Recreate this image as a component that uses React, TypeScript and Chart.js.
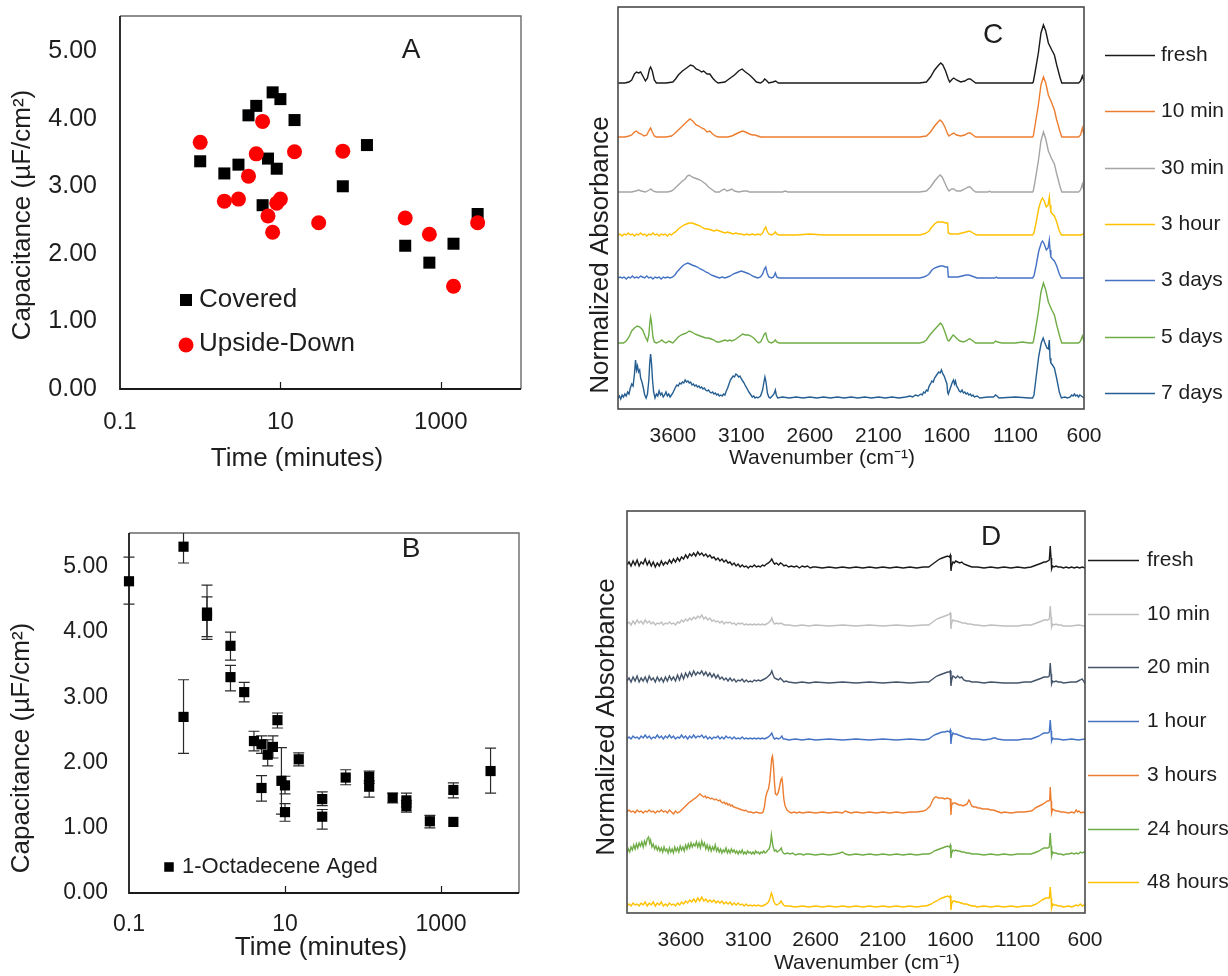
import React, { useEffect, useRef } from 'react';
import { Chart, registerables } from 'chart.js';
Chart.register(...registerables);

const FONT = '"Liberation Sans", Arial, Helvetica, sans-serif';
const INK = '#1e1e1e';

// ---------------- Panel A ----------------
const aCoveredTime = [1, 2, 3, 4, 5, 6, 7, 8, 9, 10, 15, 60, 120, 360, 720, 1440, 2880];
const aCoveredCap = [3.37, 3.19, 3.32, 4.05, 4.19, 2.72, 3.41, 4.39, 3.26, 4.29, 3.98, 3.0, 3.61, 2.12, 1.87, 2.15, 2.59];
const aUpsideTime = [1, 2, 3, 4, 5, 6, 7, 8, 9, 10, 15, 30, 60, 360, 720, 1440, 2880];
const aUpsideCap = [3.65, 2.78, 2.81, 3.15, 3.48, 3.96, 2.56, 2.32, 2.75, 2.81, 3.51, 2.46, 3.52, 2.53, 2.29, 1.52, 2.46];

// ---------------- Panel B ----------------
const bTime = [0.1, 0.5, 0.5, 1, 1, 2, 2, 3, 4, 5, 5, 6, 7, 8, 9, 10, 10, 15, 30, 30, 60, 120, 120, 240, 360, 360, 720, 1440, 1440, 4320];
const bCap = [4.78, 5.31, 2.7, 4.3, 4.25, 3.79, 3.31, 3.08, 2.33, 2.28, 1.61, 2.12, 2.24, 2.65, 1.72, 1.65, 1.24, 2.05, 1.44, 1.17, 1.77, 1.78, 1.63, 1.46, 1.42, 1.33, 1.1, 1.58, 1.09, 1.87];
const bLow = [4.43, 5.06, 2.14, 3.93, 3.89, 3.57, 3.1, 2.93, 2.18, 2.14, 1.41, 1.95, 2.07, 2.53, 1.21, 1.52, 1.1, 1.95, 1.34, 0.98, 1.66, 1.68, 1.47, 1.38, 1.32, 1.24, 1.0, 1.46, null, 1.53];
const bHigh = [5.15, 5.56, 3.27, 4.72, 4.54, 4.0, 3.49, 3.23, 2.48, 2.41, 1.8, 2.35, 2.41, 2.76, 2.23, 1.79, 1.37, 2.15, 1.55, 1.28, 1.89, 1.87, 1.72, 1.53, 1.53, 1.42, 1.19, 1.69, null, 2.22];

// shared capacitance / time ticks
const capTicks = [0, 1, 2, 3, 4, 5];
const timeTicks = [0.1, 10, 1000];
const timeInnerMarks = [10, 1000];

// ---------------- Panel C (FTIR, stacked) ----------------
const waveTicks = [3600, 3100, 2600, 2100, 1600, 1100, 600];
const cLabels = ['fresh', '10 min', '30 min', '3 hour', '3 days', '5 days', '7 days'];
const cColors = ['#1a1a1a', '#ED7D31', '#A5A5A5', '#FFC000', '#4472C4', '#70AD47', '#255E91'];
const cOffsets = [326, 272, 217, 174, 131, 66, 11];

const cFresh = [[4000,0],[3950,0],[3920,1],[3900,3],[3880,9],[3865,11],[3850,10],[3835,11],[3815,6],[3800,2],[3785,5],[3770,14],[3762,16],[3750,12],[3735,3],[3720,0],[3650,0],[3600,1],[3580,4],[3560,8],[3530,12],[3500,15],[3470,18],[3450,17],[3430,14],[3410,13],[3390,11],[3375,12],[3350,9],[3330,9],[3310,5],[3290,2],[3270,0],[3220,1],[3200,3],[3180,5],[3150,8],[3120,12],[3095,14],[3070,11],[3040,8],[3010,4],[2990,1],[2960,0],[2940,2],[2930,4],[2920,3],[2900,0],[2870,1],[2850,2],[2830,0],[1800,0],[1750,1],[1720,6],[1690,13],[1660,18],[1645,20],[1630,18],[1610,12],[1590,4],[1580,1],[1560,4],[1550,5],[1530,3],[1500,1],[1470,2],[1445,4],[1430,4],[1410,2],[1390,0],[1000,0],[975,0],[970,1],[958,10],[933,30],[914,50],[896,58],[879,52],[860,40],[835,33],[816,28],[799,18],[774,5],[762,0],[640,0],[625,2],[612,7],[605,4],[600,2]];
const c10min = [[4000,0],[3950,0],[3920,1],[3900,2],[3880,5],[3865,6],[3850,4],[3830,3],[3810,1],[3790,2],[3772,7],[3762,9],[3750,5],[3735,1],[3720,0],[3650,0],[3610,1],[3590,3],[3560,7],[3530,11],[3500,15],[3475,18],[3455,16],[3430,12],[3410,11],[3390,9],[3370,8],[3350,5],[3330,6],[3310,3],[3290,1],[3270,0],[3200,0],[3170,1],[3140,3],[3110,5],[3090,6],[3070,5],[3040,3],[3020,2],[3000,2],[2980,1],[2960,0],[1800,0],[1750,1],[1720,5],[1690,11],[1665,15],[1650,17],[1635,15],[1615,10],[1595,3],[1585,1],[1565,3],[1550,4],[1530,2],[1500,1],[1470,2],[1445,4],[1430,4],[1410,2],[1390,0],[1000,0],[975,0],[970,1],[958,11],[933,32],[914,52],[896,60],[879,54],[860,42],[835,34],[816,27],[799,17],[774,5],[762,0],[640,0],[625,2],[612,9],[605,5],[600,3]];
const c30min = [[4000,0],[3900,0],[3870,1],[3850,2],[3830,1],[3800,0],[3772,2],[3760,3],[3745,1],[3720,0],[3640,0],[3610,1],[3590,3],[3560,7],[3530,11],[3510,13],[3495,16],[3480,17],[3460,15],[3440,14],[3420,13],[3400,12],[3380,10],[3360,8],[3340,5],[3310,2],[3290,0],[3260,0],[3240,2],[3225,3],[3205,1],[3185,2],[3170,3],[3150,1],[3120,0],[3080,1],[3060,1],[3040,0],[2800,0],[2780,1],[2760,0],[1800,0],[1750,1],[1720,5],[1690,11],[1665,15],[1650,17],[1635,15],[1615,9],[1595,3],[1585,1],[1565,3],[1550,3],[1530,1],[1500,1],[1470,3],[1445,5],[1430,5],[1410,2],[1390,0],[1300,0],[1290,1],[1280,0],[1000,0],[975,0],[970,1],[958,10],[933,31],[914,51],[896,60],[879,53],[860,41],[835,33],[816,28],[799,18],[774,5],[762,0],[640,0],[625,2],[612,8],[605,4],[600,2]];
const c3hour = [[4000,0],[3985,1],[3970,-1],[3955,1],[3940,0],[3925,2],[3910,0],[3895,1],[3880,-1],[3865,1],[3850,0],[3835,2],[3820,0],[3805,1],[3790,-1],[3775,1],[3760,0],[3745,2],[3730,0],[3715,1],[3700,-1],[3685,1],[3670,0],[3655,1],[3640,-1],[3625,1],[3610,0],[3595,2],[3580,3],[3560,6],[3540,8],[3520,10],[3500,11],[3480,12],[3460,12],[3440,11],[3420,10],[3400,9],[3380,7],[3360,6],[3340,6],[3320,5],[3300,4],[3280,5],[3260,4],[3240,3],[3220,2],[3200,3],[3180,2],[3160,1],[3140,2],[3120,1],[3100,1],[3080,0],[3060,1],[3040,0],[3020,1],[3000,0],[2980,1],[2960,0],[2945,2],[2932,6],[2922,8],[2912,4],[2900,1],[2880,0],[2865,1],[2852,3],[2842,1],[2825,0],[2700,0],[2600,1],[2500,0],[1800,0],[1770,1],[1750,2],[1730,4],[1710,8],[1690,11],[1670,13],[1650,13],[1630,13],[1610,12],[1595,12],[1590,2],[1575,1],[1550,1],[1520,1],[1490,2],[1460,3],[1440,4],[1420,3],[1400,1],[1380,0],[1000,0],[975,0],[965,2],[950,12],[930,27],[912,35],[903,37],[890,34],[875,28],[862,30],[853,38],[848,30],[842,23],[830,21],[816,19],[799,13],[780,4],[765,0],[620,0],[610,1],[600,0]];
const c3days = [[4000,0],[3985,1],[3970,0],[3955,1],[3940,-1],[3925,1],[3910,0],[3895,2],[3880,0],[3865,1],[3850,0],[3835,2],[3820,1],[3805,0],[3790,2],[3775,0],[3760,1],[3745,-1],[3730,1],[3715,0],[3700,1],[3685,-1],[3670,1],[3655,0],[3640,1],[3620,0],[3600,1],[3585,3],[3570,6],[3550,9],[3530,12],[3510,14],[3490,15],[3475,14],[3460,13],[3440,12],[3420,11],[3400,9],[3380,8],[3360,6],[3340,5],[3320,3],[3300,2],[3280,1],[3260,0],[3240,1],[3220,0],[3200,1],[3180,2],[3160,4],[3140,5],[3120,6],[3100,7],[3080,6],[3060,5],[3040,4],[3020,2],[3000,1],[2980,0],[2960,1],[2945,4],[2932,9],[2922,11],[2912,5],[2900,1],[2880,0],[2865,1],[2852,5],[2842,1],[2825,0],[1800,0],[1770,1],[1750,2],[1730,4],[1710,8],[1690,10],[1670,11],[1650,12],[1630,12],[1610,11],[1595,11],[1590,1],[1575,1],[1550,1],[1520,1],[1490,2],[1460,3],[1440,3],[1420,2],[1400,1],[1380,0],[1250,0],[1240,1],[1230,0],[1000,0],[975,0],[965,2],[950,12],[930,27],[912,35],[903,37],[890,34],[875,28],[862,30],[853,38],[848,28],[842,21],[830,19],[816,17],[799,12],[780,4],[765,0],[600,0]];
const c5days = [[4000,0],[3960,0],[3940,2],[3920,6],[3900,12],[3880,15],[3860,17],[3840,16],[3820,13],[3800,6],[3785,2],[3775,8],[3768,20],[3762,26],[3755,20],[3745,6],[3735,1],[3720,0],[3700,1],[3680,3],[3665,1],[3650,0],[3630,2],[3615,1],[3600,0],[3580,3],[3560,6],[3540,8],[3520,9],[3500,10],[3480,12],[3460,11],[3440,9],[3420,8],[3400,7],[3380,6],[3360,5],[3340,5],[3320,4],[3300,3],[3280,1],[3260,1],[3240,2],[3220,3],[3200,2],[3185,3],[3170,2],[3150,3],[3130,5],[3110,7],[3090,9],[3070,8],[3050,8],[3030,7],[3010,5],[2990,2],[2975,0],[2960,1],[2945,5],[2932,9],[2922,10],[2912,4],[2900,1],[2880,0],[2865,1],[2852,3],[2842,1],[2825,0],[1800,0],[1770,1],[1750,3],[1725,8],[1700,12],[1680,15],[1660,18],[1648,20],[1635,18],[1620,13],[1605,7],[1595,3],[1585,2],[1570,5],[1555,8],[1545,7],[1525,4],[1505,2],[1480,1],[1460,2],[1440,4],[1430,4],[1410,2],[1390,0],[1260,0],[1245,2],[1230,1],[1200,0],[1100,0],[1050,1],[1000,0],[975,0],[970,1],[958,10],[933,31],[914,51],[896,60],[879,53],[860,41],[835,33],[816,28],[799,18],[774,5],[762,0],[640,0],[625,2],[612,7],[605,4],[600,2]];
const c7days = [[4000,0],[3990,2],[3980,-1],[3970,3],[3960,1],[3950,4],[3940,2],[3930,6],[3920,4],[3910,10],[3900,14],[3890,12],[3880,24],[3872,38],[3865,28],[3858,32],[3850,26],[3842,28],[3835,20],[3825,16],[3815,10],[3805,3],[3795,0],[3785,4],[3775,18],[3768,36],[3762,44],[3755,34],[3748,18],[3740,6],[3730,0],[3720,4],[3710,2],[3700,7],[3690,3],[3680,5],[3670,1],[3660,3],[3650,6],[3640,2],[3630,4],[3620,1],[3610,3],[3600,5],[3590,8],[3580,11],[3570,13],[3560,12],[3550,15],[3540,14],[3530,16],[3520,15],[3510,18],[3500,16],[3490,17],[3480,15],[3470,16],[3460,13],[3450,14],[3440,12],[3430,13],[3420,11],[3410,12],[3400,10],[3390,11],[3380,9],[3370,10],[3360,8],[3350,7],[3340,8],[3330,6],[3320,5],[3310,6],[3300,4],[3290,5],[3280,3],[3270,4],[3260,2],[3250,3],[3240,2],[3230,4],[3220,3],[3210,7],[3200,10],[3190,14],[3180,18],[3170,20],[3160,22],[3150,21],[3140,24],[3130,23],[3120,21],[3110,22],[3100,19],[3090,17],[3080,15],[3070,12],[3060,10],[3050,7],[3040,5],[3030,3],[3020,1],[3010,2],[3000,0],[2990,1],[2980,0],[2960,2],[2945,8],[2935,16],[2928,21],[2920,16],[2910,5],[2900,1],[2890,0],[2875,2],[2862,4],[2852,8],[2845,3],[2835,0],[2800,1],[2750,0],[2700,1],[2650,0],[2600,1],[2550,0],[2500,1],[2450,0],[2400,1],[2350,0],[2300,1],[2250,0],[2200,1],[2150,0],[2100,1],[2050,0],[2000,1],[1950,0],[1900,1],[1870,2],[1850,1],[1830,3],[1810,2],[1790,4],[1780,3],[1770,6],[1760,5],[1750,8],[1740,7],[1730,12],[1720,14],[1710,17],[1700,16],[1690,20],[1680,22],[1670,24],[1660,26],[1650,25],[1640,28],[1630,24],[1620,22],[1610,18],[1600,14],[1595,6],[1590,4],[1580,8],[1570,12],[1560,16],[1552,18],[1545,14],[1538,17],[1530,12],[1520,10],[1510,7],[1500,6],[1490,8],[1480,5],[1470,6],[1460,4],[1450,5],[1440,3],[1430,4],[1420,2],[1410,3],[1400,1],[1380,2],[1360,0],[1300,1],[1260,1],[1245,3],[1235,2],[1220,0],[1100,1],[1000,0],[975,0],[965,3],[950,20],[930,42],[912,55],[898,60],[885,55],[870,50],[860,49],[853,58],[848,40],[842,35],[830,33],[816,30],[800,20],[780,6],[765,0],[740,1],[720,0],[700,1],[690,3],[680,2],[670,4],[660,2],[650,3],[640,1],[630,3],[620,2],[610,1],[600,0]];
const cSpectra = [cFresh, c10min, c30min, c3hour, c3days, c5days, c7days];

// ---------------- Panel D (FTIR, stacked) ----------------
const dLabels = ['fresh', '10 min', '20 min', '1 hour', '3 hours', '24 hours', '48 hours'];
const dColors = ['#1a1a1a', '#BFBFBF', '#44546A', '#4472C4', '#ED7D31', '#70AD47', '#FFC000'];
const dOffsets = [345, 287, 230, 173, 100, 58, 6];

const dFresh = [[4000,3],[3985,6],[3970,2],[3955,7],[3940,3],[3925,8],[3910,2],[3895,6],[3880,4],[3865,9],[3850,3],[3835,7],[3820,2],[3805,6],[3790,1],[3775,5],[3760,2],[3745,7],[3730,3],[3715,6],[3700,4],[3685,8],[3670,5],[3655,9],[3640,6],[3625,10],[3610,7],[3595,11],[3580,9],[3565,13],[3550,10],[3535,14],[3520,12],[3505,15],[3490,12],[3475,16],[3460,13],[3445,15],[3430,12],[3415,14],[3400,11],[3385,13],[3370,10],[3355,11],[3340,8],[3325,10],[3310,7],[3295,9],[3280,6],[3265,8],[3250,5],[3235,6],[3220,3],[3205,5],[3190,2],[3175,4],[3160,1],[3145,3],[3130,1],[3115,2],[3100,0],[3085,2],[3070,1],[3055,3],[3040,1],[3025,2],[3010,1],[2995,3],[2980,2],[2965,4],[2950,5],[2935,7],[2925,9],[2915,6],[2905,4],[2890,5],[2875,3],[2860,5],[2848,4],[2835,2],[2820,3],[2800,1],[2780,2],[2760,1],[2740,2],[2720,0],[2700,2],[2680,1],[2660,2],[2640,0],[2620,1],[2600,1],[2550,0],[2500,1],[2450,0],[2400,1],[2350,0],[2300,1],[2250,0],[2200,1],[2150,0],[2100,1],[2050,0],[2000,1],[1950,0],[1900,1],[1850,0],[1800,1],[1760,1],[1740,3],[1720,5],[1700,7],[1680,9],[1660,10],[1640,11],[1620,12],[1607,11],[1600,13],[1595,-3],[1590,2],[1580,6],[1570,5],[1560,7],[1545,6],[1530,5],[1515,6],[1500,4],[1480,3],[1460,2],[1440,1],[1400,1],[1350,0],[1300,1],[1250,0],[1200,1],[1150,0],[1100,1],[1050,0],[1000,1],[980,2],[960,3],[940,4],[920,5],[905,6],[890,6],[875,7],[865,8],[858,22],[852,10],[848,-1],[840,2],[830,1],[815,2],[800,1],[780,1],[760,0],[740,1],[720,0],[700,1],[680,0],[660,1],[640,0],[620,1],[600,0]];
const d10min = [[4000,2],[3985,4],[3970,1],[3955,5],[3940,2],[3925,6],[3910,3],[3895,5],[3880,2],[3865,6],[3850,3],[3835,5],[3820,2],[3805,4],[3790,1],[3775,3],[3760,2],[3745,4],[3730,1],[3715,3],[3700,2],[3685,4],[3670,2],[3655,3],[3640,1],[3625,4],[3610,3],[3595,6],[3580,4],[3565,7],[3550,5],[3535,8],[3520,6],[3505,9],[3490,7],[3475,10],[3460,8],[3445,11],[3430,7],[3415,9],[3400,6],[3385,8],[3370,5],[3355,6],[3340,4],[3325,5],[3310,3],[3295,5],[3280,2],[3265,4],[3250,3],[3235,4],[3220,2],[3205,3],[3190,1],[3175,3],[3160,2],[3145,3],[3130,1],[3115,2],[3100,1],[3085,2],[3070,1],[3055,2],[3040,1],[3025,2],[3010,1],[2995,2],[2980,1],[2965,2],[2950,3],[2935,5],[2925,8],[2915,4],[2905,2],[2890,3],[2875,2],[2860,3],[2845,2],[2830,1],[2800,1],[2750,0],[2700,1],[2650,0],[2600,1],[2500,0],[2400,1],[2300,0],[2200,1],[2100,0],[2000,1],[1900,0],[1800,1],[1760,1],[1740,3],[1720,5],[1700,7],[1680,8],[1660,9],[1640,10],[1620,11],[1607,12],[1600,13],[1595,-3],[1590,3],[1580,6],[1565,5],[1550,5],[1530,4],[1510,3],[1490,3],[1470,2],[1450,2],[1420,1],[1400,1],[1350,0],[1300,1],[1200,0],[1100,0],[1050,1],[1000,1],[980,2],[960,3],[940,4],[920,5],[905,6],[890,6],[875,6],[865,7],[858,20],[852,9],[848,-1],[840,2],[830,1],[815,2],[800,1],[780,1],[760,0],[700,0],[650,1],[600,0]];
const d20min = [[4000,2],[3985,5],[3970,1],[3955,6],[3940,2],[3925,7],[3910,1],[3895,5],[3880,2],[3865,6],[3850,1],[3835,7],[3820,3],[3805,5],[3790,1],[3775,6],[3760,2],[3745,5],[3730,1],[3715,6],[3700,2],[3685,7],[3670,3],[3655,6],[3640,2],[3625,8],[3610,3],[3595,9],[3580,4],[3565,10],[3550,6],[3535,11],[3520,7],[3505,12],[3490,8],[3475,11],[3460,9],[3445,12],[3430,8],[3415,11],[3400,7],[3385,10],[3370,6],[3355,9],[3340,5],[3325,8],[3310,4],[3295,6],[3280,3],[3265,5],[3250,2],[3235,5],[3220,2],[3205,4],[3190,1],[3175,3],[3160,2],[3145,4],[3130,1],[3115,3],[3100,1],[3085,2],[3070,1],[3055,3],[3040,2],[3025,3],[3010,2],[2995,3],[2980,4],[2965,5],[2950,7],[2935,9],[2925,12],[2915,8],[2905,5],[2890,4],[2875,3],[2862,5],[2848,3],[2835,1],[2820,2],[2800,1],[2750,0],[2700,1],[2650,0],[2600,1],[2500,0],[2400,1],[2300,0],[2200,1],[2100,0],[2000,1],[1900,0],[1800,1],[1760,1],[1740,3],[1720,5],[1700,7],[1680,8],[1660,9],[1640,10],[1620,11],[1607,11],[1600,12],[1595,-3],[1590,3],[1580,7],[1570,6],[1560,5],[1545,7],[1530,5],[1515,6],[1500,3],[1480,2],[1460,2],[1440,1],[1400,1],[1350,0],[1300,1],[1200,0],[1100,0],[1050,1],[1000,1],[980,2],[960,3],[940,4],[920,5],[905,6],[890,6],[875,6],[865,7],[858,20],[852,9],[848,-1],[840,2],[830,1],[815,2],[800,1],[780,1],[760,0],[700,1],[665,1],[650,2],[635,3],[622,4],[610,2],[600,-1]];
const d1hour = [[4000,1],[3985,3],[3970,1],[3955,4],[3940,2],[3925,3],[3910,1],[3895,4],[3880,2],[3865,5],[3850,2],[3835,4],[3820,1],[3805,3],[3790,2],[3775,5],[3760,2],[3745,4],[3730,1],[3715,4],[3700,2],[3685,5],[3670,2],[3655,4],[3640,1],[3625,3],[3610,2],[3595,5],[3580,2],[3565,4],[3550,1],[3535,4],[3520,2],[3505,5],[3490,2],[3475,4],[3460,3],[3445,5],[3430,2],[3415,4],[3400,1],[3385,3],[3370,1],[3355,3],[3340,2],[3325,4],[3310,1],[3295,3],[3280,1],[3265,4],[3250,2],[3235,3],[3220,1],[3205,3],[3190,1],[3175,2],[3160,1],[3145,3],[3130,1],[3115,2],[3100,1],[3085,2],[3070,1],[3055,2],[3040,1],[3025,2],[3010,1],[2995,2],[2980,1],[2965,2],[2950,3],[2935,5],[2925,7],[2915,3],[2905,1],[2890,2],[2875,1],[2862,2],[2850,4],[2840,1],[2825,1],[2800,0],[2750,1],[2700,0],[2650,1],[2600,0],[2500,1],[2400,0],[2300,1],[2200,0],[2100,1],[2000,0],[1900,1],[1800,0],[1760,1],[1740,3],[1720,5],[1700,6],[1680,7],[1660,8],[1640,8],[1620,9],[1607,8],[1600,10],[1595,-4],[1590,3],[1580,7],[1570,6],[1555,6],[1540,5],[1520,4],[1500,3],[1480,2],[1460,2],[1440,1],[1400,1],[1350,0],[1300,1],[1280,2],[1265,2],[1250,1],[1200,0],[1100,0],[1050,1],[1000,1],[980,2],[960,3],[940,4],[920,6],[905,7],[890,7],[875,7],[865,8],[858,20],[852,9],[848,-1],[840,2],[830,1],[815,1],[800,1],[760,0],[700,1],[650,0],[600,1]];
const d3hours = [[4000,1],[3985,3],[3970,1],[3955,2],[3940,0],[3925,3],[3910,1],[3895,2],[3880,0],[3865,2],[3850,1],[3835,3],[3820,1],[3805,2],[3790,0],[3775,2],[3760,1],[3745,3],[3730,1],[3715,2],[3700,0],[3685,3],[3670,1],[3655,-1],[3640,2],[3625,0],[3610,1],[3595,3],[3580,5],[3565,7],[3550,9],[3535,11],[3520,12],[3505,14],[3490,15],[3475,17],[3460,19],[3450,18],[3440,17],[3430,16],[3420,17],[3410,15],[3400,16],[3390,15],[3380,14],[3370,15],[3360,14],[3350,13],[3340,14],[3330,13],[3320,12],[3310,13],[3300,11],[3290,10],[3280,11],[3270,9],[3260,10],[3250,8],[3240,9],[3230,7],[3220,8],[3210,6],[3200,6],[3190,5],[3180,5],[3170,4],[3160,4],[3150,3],[3140,3],[3130,2],[3120,3],[3100,1],[3080,1],[3060,0],[3040,1],[3020,0],[3000,0],[2990,1],[2980,6],[2970,16],[2960,21],[2950,24],[2940,32],[2932,45],[2925,55],[2920,57],[2913,48],[2906,32],[2898,19],[2888,18],[2878,20],[2868,26],[2858,33],[2850,35],[2844,28],[2836,14],[2826,7],[2812,3],[2795,1],[2780,0],[2760,1],[2740,0],[2720,1],[2700,0],[2650,1],[2600,0],[2550,1],[2500,0],[2450,1],[2400,0],[2380,2],[2360,1],[2340,0],[2300,1],[2250,0],[2200,1],[2150,0],[2100,1],[2050,0],[2000,1],[1950,0],[1900,1],[1850,1],[1800,2],[1780,3],[1765,5],[1750,7],[1740,10],[1730,13],[1720,15],[1710,16],[1700,16],[1690,15],[1680,15],[1660,15],[1640,14],[1620,15],[1607,14],[1600,14],[1595,-2],[1590,8],[1580,10],[1565,10],[1550,9],[1535,8],[1520,8],[1505,7],[1490,8],[1475,9],[1462,13],[1455,12],[1448,9],[1440,7],[1425,6],[1410,6],[1395,5],[1380,5],[1360,4],[1340,4],[1320,4],[1300,3],[1280,3],[1260,2],[1240,1],[1220,0],[1200,1],[1150,0],[1100,1],[1050,1],[1000,2],[985,3],[970,5],[955,6],[940,7],[925,8],[910,9],[900,10],[890,11],[880,12],[870,12],[862,13],[858,26],[852,12],[848,0],[840,4],[830,3],[815,2],[800,2],[780,1],[760,1],[720,0],[700,1],[680,0],[665,3],[655,1],[645,2],[630,0],[615,1],[600,0]];
const d24hours = [[4000,2],[3990,6],[3980,3],[3970,8],[3960,5],[3950,10],[3940,6],[3930,11],[3920,7],[3910,12],[3900,9],[3890,13],[3880,8],[3870,14],[3860,10],[3850,16],[3840,18],[3832,12],[3825,15],[3815,8],[3805,11],[3795,6],[3785,9],[3775,5],[3765,8],[3755,4],[3745,7],[3735,3],[3725,8],[3715,4],[3705,6],[3695,2],[3685,7],[3675,3],[3665,6],[3655,2],[3645,8],[3635,4],[3625,7],[3615,3],[3605,9],[3595,5],[3585,8],[3575,4],[3565,10],[3555,6],[3545,11],[3535,7],[3525,12],[3515,8],[3505,11],[3495,9],[3485,13],[3475,8],[3465,12],[3455,7],[3445,14],[3435,9],[3425,12],[3415,6],[3405,10],[3395,5],[3385,9],[3375,4],[3365,8],[3355,5],[3345,10],[3335,4],[3325,7],[3315,3],[3305,6],[3295,2],[3285,5],[3275,3],[3265,7],[3255,2],[3245,5],[3235,2],[3225,6],[3215,3],[3205,5],[3195,2],[3185,4],[3175,1],[3165,4],[3155,2],[3145,5],[3135,1],[3125,3],[3115,1],[3105,4],[3095,2],[3085,3],[3075,1],[3065,3],[3055,1],[3045,4],[3035,2],[3025,3],[3015,1],[3005,3],[2995,2],[2985,4],[2975,2],[2965,3],[2955,5],[2945,6],[2935,11],[2928,20],[2922,14],[2915,8],[2905,4],[2895,5],[2885,3],[2875,4],[2865,5],[2855,7],[2848,4],[2840,2],[2830,1],[2810,2],[2790,1],[2770,2],[2750,0],[2730,1],[2710,1],[2690,0],[2670,1],[2650,1],[2600,0],[2550,1],[2500,0],[2450,1],[2420,2],[2400,3],[2380,1],[2350,0],[2300,1],[2250,0],[2200,1],[2150,0],[2100,1],[2050,0],[2000,1],[1950,0],[1900,1],[1850,0],[1800,1],[1760,1],[1740,2],[1720,4],[1700,5],[1680,6],[1660,7],[1640,8],[1620,9],[1607,8],[1600,10],[1595,-3],[1590,2],[1580,5],[1570,4],[1560,5],[1545,4],[1530,4],[1515,3],[1500,3],[1480,2],[1460,2],[1440,1],[1400,1],[1350,0],[1300,1],[1250,0],[1200,1],[1150,0],[1100,1],[1050,1],[1000,1],[980,2],[960,3],[940,4],[920,6],[905,7],[890,7],[875,7],[865,8],[858,22],[852,9],[848,-1],[840,3],[830,2],[815,2],[800,1],[780,1],[760,0],[740,1],[720,1],[700,2],[680,1],[665,2],[650,1],[635,3],[620,2],[610,3],[600,2]];
const d48hours = [[4000,1],[3985,3],[3970,1],[3955,4],[3940,2],[3925,3],[3910,1],[3895,4],[3880,2],[3865,5],[3850,1],[3835,4],[3820,2],[3805,5],[3790,1],[3775,4],[3760,2],[3745,5],[3730,1],[3715,3],[3700,1],[3685,4],[3670,2],[3655,3],[3640,1],[3625,4],[3610,2],[3595,5],[3580,3],[3565,6],[3550,4],[3535,7],[3520,5],[3505,8],[3490,5],[3475,9],[3460,6],[3445,10],[3430,6],[3415,8],[3400,5],[3385,7],[3370,5],[3355,7],[3340,4],[3325,6],[3310,4],[3295,6],[3280,3],[3265,5],[3250,3],[3235,5],[3220,2],[3205,4],[3190,2],[3175,4],[3160,2],[3145,3],[3130,1],[3115,3],[3100,1],[3085,2],[3070,1],[3055,2],[3040,1],[3025,2],[3010,1],[2995,1],[2980,2],[2965,3],[2950,5],[2938,9],[2928,14],[2920,11],[2912,6],[2900,3],[2888,2],[2876,3],[2866,4],[2856,6],[2848,4],[2838,2],[2825,1],[2800,1],[2750,0],[2700,1],[2650,0],[2600,1],[2550,0],[2500,1],[2450,0],[2400,1],[2350,0],[2300,1],[2250,0],[2200,1],[2150,0],[2100,1],[2050,0],[2000,1],[1950,0],[1900,1],[1850,0],[1800,1],[1780,1],[1760,2],[1740,3],[1720,5],[1700,6],[1680,8],[1660,9],[1640,10],[1620,11],[1607,10],[1600,11],[1595,-3],[1590,3],[1580,6],[1570,6],[1555,5],[1540,5],[1520,4],[1500,3],[1480,3],[1460,2],[1440,1],[1420,1],[1400,0],[1350,1],[1300,0],[1250,1],[1200,0],[1150,1],[1100,0],[1050,1],[1000,1],[980,2],[960,3],[940,5],[920,7],[905,8],[890,9],[875,9],[865,9],[858,20],[852,9],[848,-1],[840,3],[830,2],[815,2],[800,1],[780,1],[760,0],[720,1],[700,0],[680,1],[665,2],[650,1],[635,3],[620,1],[610,2],[600,1]];
const dSpectra = [dFresh, d10min, d20min, d1hour, d3hours, d24hours, d48hours];

// ---------------- helpers ----------------
type Txt = { t: string; x: number; y: number; size: number; rot?: boolean; align?: CanvasTextAlign };

function textPlugin(items: Txt[], ox: number, oy: number) {
  return {
    id: 'panelText',
    afterDraw(chart: any) {
      const ctx = chart.ctx;
      ctx.save();
      ctx.fillStyle = INK;
      ctx.textBaseline = 'middle';
      for (const it of items) {
        ctx.font = `${it.size}px ${FONT}`;
        ctx.textAlign = it.align || 'center';
        ctx.save();
        ctx.translate(it.x - ox, it.y - oy);
        if (it.rot) ctx.rotate(-Math.PI / 2);
        ctx.fillText(it.t, 0, 0);
        ctx.restore();
      }
      ctx.restore();
    },
  };
}

function scatterFrame() {
  return {
    id: 'scatterFrame',
    beforeDatasetsDraw(chart: any) {
      const { ctx, chartArea: a } = chart;
      const xs = chart.scales.x;
      ctx.save();
      ctx.lineWidth = 1.4;
      ctx.strokeStyle = '#6a6a6a';
      ctx.beginPath();
      ctx.moveTo(a.left, a.top);
      ctx.lineTo(a.right, a.top);
      ctx.lineTo(a.right, a.bottom);
      ctx.stroke();
      ctx.lineWidth = 1.8;
      ctx.strokeStyle = '#1a1a1a';
      ctx.beginPath();
      ctx.moveTo(a.left, a.top);
      ctx.lineTo(a.left, a.bottom);
      ctx.lineTo(a.right, a.bottom);
      ctx.stroke();
      ctx.lineWidth = 1.2;
      for (const v of timeInnerMarks) {
        const px = Math.round(xs.getPixelForValue(v)) + 0.5;
        ctx.beginPath();
        ctx.moveTo(px, a.bottom);
        ctx.lineTo(px, a.bottom - 7);
        ctx.stroke();
      }
      ctx.restore();
    },
  };
}

function errorBars() {
  return {
    id: 'errorBars',
    beforeDatasetsDraw(chart: any) {
      const { ctx, chartArea: a } = chart;
      const xs = chart.scales.x;
      const ys = chart.scales.y;
      ctx.save();
      ctx.beginPath();
      ctx.rect(0, a.top, chart.width, chart.height - a.top);
      ctx.clip();
      ctx.strokeStyle = '#2a2a2a';
      ctx.lineWidth = 1.2;
      for (let i = 0; i < bTime.length; i++) {
        const lo = bLow[i];
        const hi = bHigh[i];
        if (lo == null || hi == null) continue;
        const px = xs.getPixelForValue(bTime[i]);
        const y1 = ys.getPixelForValue(lo);
        const y2 = ys.getPixelForValue(hi);
        ctx.beginPath();
        ctx.moveTo(px, y1);
        ctx.lineTo(px, y2);
        ctx.moveTo(px - 5.5, y1);
        ctx.lineTo(px + 5.5, y1);
        ctx.moveTo(px - 5.5, y2);
        ctx.lineTo(px + 5.5, y2);
        ctx.stroke();
      }
      ctx.restore();
    },
  };
}

function markerLegend(items: { kind: 'rect' | 'circle'; x: number; y: number; s: number; color: string }[], ox: number, oy: number) {
  return {
    id: 'markerLegend',
    afterDraw(chart: any) {
      const ctx = chart.ctx;
      ctx.save();
      for (const m of items) {
        ctx.fillStyle = m.color;
        if (m.kind === 'rect') {
          ctx.fillRect(m.x - ox - m.s / 2, m.y - oy - m.s / 2, m.s, m.s);
        } else {
          ctx.beginPath();
          ctx.arc(m.x - ox, m.y - oy, m.s / 2, 0, Math.PI * 2);
          ctx.fill();
        }
      }
      ctx.restore();
    },
  };
}

function spectraFrame() {
  return {
    id: 'spectraFrame',
    afterDraw(chart: any) {
      const { ctx, chartArea: a } = chart;
      ctx.save();
      ctx.strokeStyle = '#4a4a4a';
      ctx.lineWidth = 1.6;
      ctx.strokeRect(a.left, a.top, a.right - a.left, a.bottom - a.top);
      ctx.restore();
    },
  };
}

function lineLegend(labels: string[], colors: string[], x1: number, x2: number, tx: number, y0: number, dy: number, ox: number, oy: number) {
  return {
    id: 'lineLegend',
    afterDraw(chart: any) {
      const ctx = chart.ctx;
      ctx.save();
      ctx.textBaseline = 'middle';
      ctx.textAlign = 'left';
      ctx.font = `21px ${FONT}`;
      labels.forEach((lab, i) => {
        const y = Math.round(y0 + i * dy - oy) + 0.5;
        ctx.strokeStyle = colors[i];
        ctx.lineWidth = 1.6;
        ctx.beginPath();
        ctx.moveTo(x1 - ox, y);
        ctx.lineTo(x2 - ox, y);
        ctx.stroke();
        ctx.fillStyle = INK;
        ctx.fillText(lab, tx - ox, y);
      });
      ctx.restore();
    },
  };
}

const noEdgePadding = (s: any) => {
  s.paddingTop = 0;
  s.paddingBottom = 0;
  s.paddingLeft = 0;
  s.paddingRight = 0;
};

function timeAxis(size: number, pad: number, h: number) {
  return {
    type: 'logarithmic',
    min: 0.1,
    max: 10000,
    grid: { display: false },
    border: { display: false },
    afterBuildTicks: (s: any) => {
      s.ticks = timeTicks.map((v) => ({ value: v }));
    },
    afterFit: (s: any) => {
      s.height = h;
      noEdgePadding(s);
    },
    ticks: {
      autoSkip: false,
      maxRotation: 0,
      padding: pad,
      color: INK,
      font: { family: FONT, size },
      callback: (v: any) => String(v),
    },
  };
}

function capAxis(size: number, pad: number, w: number) {
  return {
    type: 'linear',
    min: 0,
    max: 5.52,
    grid: { display: false },
    border: { display: false },
    afterBuildTicks: (s: any) => {
      s.ticks = capTicks.map((v) => ({ value: v }));
    },
    afterFit: (s: any) => {
      s.width = w;
      noEdgePadding(s);
    },
    ticks: {
      padding: pad,
      color: INK,
      font: { family: FONT, size },
      callback: (v: any) => Number(v).toFixed(2),
    },
  };
}

function waveAxis(pad: number, h: number) {
  return {
    type: 'linear',
    min: 600,
    max: 4000,
    reverse: true,
    grid: { display: false },
    border: { display: false },
    afterBuildTicks: (s: any) => {
      s.ticks = waveTicks.map((v) => ({ value: v }));
    },
    afterFit: (s: any) => {
      s.height = h;
      noEdgePadding(s);
    },
    ticks: {
      autoSkip: false,
      maxRotation: 0,
      padding: pad,
      color: INK,
      font: { family: FONT, size: 21 },
      callback: (v: any) => String(v),
    },
  };
}

const baseOptions = {
  animation: false,
  responsive: false,
  devicePixelRatio: 1,
  events: [],
};

function makeA() {
  const ox = 0, oy = 0;
  return {
    type: 'scatter',
    data: {
      datasets: [
        {
          label: 'Covered',
          data: aCoveredTime.map((t, i) => ({ x: t, y: aCoveredCap[i] })),
          pointStyle: 'rect',
          pointRadius: 8.5,
          backgroundColor: '#000000',
          borderWidth: 0,
          order: 1,
          clip: false,
        },
        {
          label: 'Upside-Down',
          data: aUpsideTime.map((t, i) => ({ x: t, y: aUpsideCap[i] })),
          pointStyle: 'circle',
          pointRadius: 7.5,
          backgroundColor: '#FF0000',
          borderWidth: 0,
          order: 0,
          clip: false,
        },
      ],
    },
    options: {
      ...baseOptions,
      layout: { padding: { left: 0, top: 16, right: 59, bottom: 0 } },
      plugins: { legend: { display: false }, tooltip: { enabled: false } },
      scales: { x: timeAxis(24, 11, 91), y: capAxis(25, 15, 120) },
    },
    plugins: [
      scatterFrame(),
      markerLegend(
        [
          { kind: 'rect', x: 186, y: 300, s: 12, color: '#000000' },
          { kind: 'circle', x: 186, y: 345, s: 15, color: '#FF0000' },
        ],
        ox,
        oy
      ),
      textPlugin(
        [
          { t: 'Capacitance (µF/cm²)', x: 23, y: 215, size: 26, rot: true },
          { t: 'Time (minutes)', x: 297, y: 459, size: 26 },
          { t: 'A', x: 411, y: 50, size: 28 },
          { t: 'Covered', x: 199, y: 300, size: 26, align: 'left' },
          { t: 'Upside-Down', x: 199, y: 344, size: 26, align: 'left' },
        ],
        ox,
        oy
      ),
    ],
  };
}

function makeB() {
  const ox = 0, oy = 480;
  return {
    type: 'scatter',
    data: {
      datasets: [
        {
          label: '1-Octadecene Aged',
          data: bTime.map((t, i) => ({ x: t, y: bCap[i] })),
          pointStyle: 'rect',
          pointRadius: 7.2,
          backgroundColor: '#000000',
          borderWidth: 0,
          clip: false,
        },
      ],
    },
    options: {
      ...baseOptions,
      layout: { padding: { left: 0, top: 53, right: 61, bottom: 0 } },
      plugins: { legend: { display: false }, tooltip: { enabled: false } },
      scales: { x: timeAxis(23, 10, 83), y: capAxis(23, 13, 129) },
    },
    plugins: [
      scatterFrame(),
      errorBars(),
      markerLegend([{ kind: 'rect', x: 169, y: 867, s: 9.5, color: '#000000' }], ox, oy),
      textPlugin(
        [
          { t: 'Capacitance (µF/cm²)', x: 22, y: 748, size: 26, rot: true },
          { t: 'Time (minutes)', x: 321, y: 948, size: 26 },
          { t: 'B', x: 411, y: 549, size: 28 },
          { t: '1-Octadecene Aged', x: 182, y: 867, size: 22, align: 'left' },
        ],
        ox,
        oy
      ),
    ],
  };
}

function spectraConfig(
  spectra: number[][][],
  labels: string[],
  colors: string[],
  offsets: number[],
  pad: any,
  tickPad: number,
  xh: number,
  extra: any[]
) {
  return {
    type: 'line',
    data: {
      datasets: spectra.map((s, i) => ({
        label: labels[i],
        data: s.map(([w, a]) => ({ x: w, y: a + offsets[i] })),
        borderColor: colors[i],
        borderWidth: 1.4,
        pointRadius: 0,
        tension: 0,
        fill: false,
      })),
    },
    options: {
      ...baseOptions,
      layout: { padding: pad },
      plugins: { legend: { display: false }, tooltip: { enabled: false } },
      scales: {
        x: waveAxis(tickPad, xh),
        y: { type: 'linear', display: false, min: 0, max: 402 },
      },
    },
    plugins: [spectraFrame(), ...extra],
  };
}

function makeC() {
  const ox = 580, oy = 0;
  return spectraConfig(cSpectra, cLabels, cColors, cOffsets, { left: 38, top: 7, right: 144, bottom: 0 }, 7, 71, [
    lineLegend(cLabels, cColors, 1105, 1155, 1161, 55, 56.3, ox, oy),
    textPlugin(
      [
        { t: 'Normalized Absorbance', x: 601, y: 255, size: 26, rot: true },
        { t: 'Wavenumber (cm⁻¹)', x: 822, y: 458, size: 21 },
        { t: 'C', x: 993, y: 35, size: 28 },
      ],
      ox,
      oy
    ),
  ]);
}

function makeD() {
  const ox = 580, oy = 480;
  return spectraConfig(dSpectra, dLabels, dColors, dOffsets, { left: 47, top: 31, right: 143, bottom: 0 }, 7, 63, [
    lineLegend(dLabels, dColors, 1088, 1139, 1147, 560, 53.7, ox, oy),
    textPlugin(
      [
        { t: 'Normalized Absorbance', x: 607, y: 717, size: 26, rot: true },
        { t: 'Wavenumber (cm⁻¹)', x: 867, y: 963, size: 21 },
        { t: 'D', x: 991, y: 537, size: 28 },
      ],
      ox,
      oy
    ),
  ]);
}

function ChartBox({ x, y, w, h, make }: { x: number; y: number; w: number; h: number; make: () => any }) {
  const ref = useRef<HTMLCanvasElement | null>(null);
  useEffect(() => {
    if (!ref.current) return;
    const chart = new Chart(ref.current, make());
    return () => chart.destroy();
  }, []);
  return (
    <canvas
      ref={ref}
      width={w}
      height={h}
      style={{ position: 'absolute', left: x, top: y, width: w, height: h, display: 'block' }}
    />
  );
}

export default function App() {
  return (
    <div
      style={{
        position: 'absolute',
        left: 0,
        top: 0,
        width: 1228,
        height: 976,
        background: '#ffffff',
        overflow: 'hidden',
      }}
    >
      <ChartBox x={0} y={0} w={580} h={480} make={makeA} />
      <ChartBox x={0} y={480} w={580} h={496} make={makeB} />
      <ChartBox x={580} y={0} w={648} h={480} make={makeC} />
      <ChartBox x={580} y={480} w={648} h={496} make={makeD} />
    </div>
  );
}
